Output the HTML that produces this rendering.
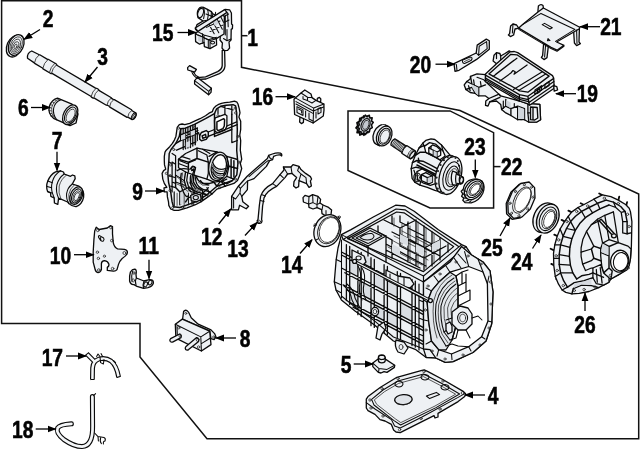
<!DOCTYPE html>
<html><head><meta charset="utf-8"><title>Transaxle parts diagram</title>
<style>
html,body{margin:0;padding:0;background:#fff;}
body{width:640px;height:471px;overflow:hidden;}
svg{display:block;}
.lbl{stroke:#000;stroke-width:0.6;font-family:"Liberation Sans",sans-serif;font-weight:bold;font-size:24px;fill:#000;}
.fr{fill:none;stroke:#111;stroke-width:1.5;}
.ar{fill:none;stroke:#000;stroke-width:1.3;}
.p{fill:#eef1f4;stroke:#0a0a0a;stroke-width:1.3;stroke-linejoin:round;stroke-linecap:round;}
.l{fill:none;stroke:#0a0a0a;stroke-width:1.05;stroke-linejoin:round;stroke-linecap:round;}
.t{fill:none;stroke:#222;stroke-width:0.75;stroke-linejoin:round;stroke-linecap:round;}
.w{fill:#fff;stroke:#1a1a1a;stroke-width:0.9;stroke-linejoin:round;}
.d{fill:#222;stroke:none;}
</style></head>
<body>
<svg width="640" height="471" viewBox="0 0 640 471">
<defs>
<marker id="ah" markerWidth="9" markerHeight="8" refX="8" refY="4" orient="auto" markerUnits="userSpaceOnUse"><path d="M0,0.6 L9,4 L0,7.4 Z" fill="#000"/></marker>
</defs>
<rect width="640" height="471" fill="#fff"/>
<!-- FRAME -->
<g id="frame">
<path class="fr" d="M241.5,0.7 H1.6 V323.5 H140 V357 L207,438.7 H638.7 V194 L460,110.5 L241.5,67.3 V0"/>
<path class="fr" d="M241.5,35.7 H247.5"/>
<path class="fr" d="M348,110.9 H450 L493.6,132.6 V208 H430 L348,170.5 Z"/>
<path class="fr" d="M493.6,166.6 H500.5"/>
</g>
<!-- PARTS -->
<g id="parts">
<!-- 2 seal -->
<g id="p2">
<ellipse class="p" cx="14.6" cy="46.2" rx="7.6" ry="11.3" transform="rotate(24 14.6 46.2)"/>
<ellipse class="p" cx="16.2" cy="45" rx="7.2" ry="10.8" transform="rotate(24 16.2 45)"/>
<ellipse class="t" cx="16.2" cy="45.2" rx="5.6" ry="8.8" transform="rotate(24 16.2 45.2)"/>
<ellipse class="t" cx="16" cy="45.6" rx="4.1" ry="6.8" transform="rotate(24 16 45.6)"/>
<ellipse class="t" cx="15.8" cy="46" rx="2.6" ry="4.6" transform="rotate(24 15.8 46)"/>
<ellipse class="t" cx="15.6" cy="46.4" rx="1.2" ry="2.4" transform="rotate(24 15.6 46.4)"/>
</g>
<!-- 3 shaft -->
<g id="p3" transform="translate(28.6,54) rotate(30.6)">
<path class="p" d="M1.2,-4.2 Q-2,0 1.2,4.2 L9,4.7 L10,5 L19,5 L20,5.5 L29,5.5 L30,4.7 L75,4.7 L76,5.1 L78,5.1 L79,4.5 L93,4.5 L94,4 L96,4 L97,4.4 L117,4.4 L118,3.8 L122.6,3.8 Q125.4,0 122.6,-3.8 L118,-3.8 L117,-4.4 L97,-4.4 L96,-4 L94,-4 L93,-4.5 L79,-4.5 L78,-5.1 L76,-5.1 L75,-4.7 L30,-4.7 L29,-5.5 L20,-5.5 L19,-5 L10,-5 L9,-4.7 Z"/>
<path class="t" d="M9.5,-4.6 Q7.6,0 9.5,4.6 M19.5,-5.2 Q17.6,0 19.5,5.2 M27.3,-5.5 Q25.4,0 27.3,5.5 M29.5,-5 Q27.6,0 29.5,5 M75.5,-4.9 Q73.6,0 75.5,4.9 M78.5,-4.8 Q76.6,0 78.5,4.8 M93.5,-4.2 Q91.6,0 93.5,4.2 M96.5,-4.2 Q94.6,0 96.5,4.2 M117.5,-4.1 Q115.6,0 117.5,4.1"/>
<ellipse class="l" cx="122.2" cy="0" rx="1.8" ry="3.6"/>
<ellipse class="t" cx="122.4" cy="0" rx="0.9" ry="2.1"/>
</g>
<!-- 6 sleeve -->
<g id="p6">
<path class="p" d="M57.5,98.2 L72,104.2 L78,114 L76,123 L70,125.6 L53.5,118.3 Q47.5,113.5 49.5,106 Q52,99.4 57.5,98.2 Z"/>
<ellipse class="p" cx="70.2" cy="114.8" rx="6.6" ry="10.6" transform="rotate(28 70.2 114.8)"/>
<ellipse class="l" cx="70.4" cy="115" rx="5" ry="8.6" transform="rotate(28 70.4 115)"/>
<ellipse class="t" cx="70.6" cy="115.4" rx="3.7" ry="6.8" transform="rotate(28 70.6 115.4)"/>
<path class="l" d="M61,99.7 Q55,101.5 53.6,108.5 Q52.6,114.5 56.8,119.8"/>
<path class="t" d="M59.3,99 Q53.4,100.8 51.7,107.6 Q50.6,113.8 55,119"/>
<path class="t" d="M50.2,104.5 L52.2,105.3 M49.3,107.5 L51.4,108.1 M49,110.5 L51.3,110.9 M49.6,113.5 L51.8,113.5 M51,116.2 L53,115.8 M52.4,101.8 L54.2,102.9 M55,99.6 L56.4,101"/>
</g>
<!-- 7 bearing -->
<g id="p7">
<path class="p" d="M55.6,171.8 L60.5,170.8 L63.5,172 L64.2,174 L70.5,176.3 L72.5,175 L74.8,175.8 L75.2,178.6 L72.3,184 L79,186.2 Q84.6,190 83.6,197.4 Q82,204.6 76.2,206.6 Q72.2,206.8 69,203.6 L67.6,202 L58.6,198.2 L57.8,204.4 L54.4,203 L54.2,198 L50.8,196.3 L50.6,193 L47.6,191.6 Q45.6,186.4 47.8,181 Q50.4,174.4 55.6,171.8 Z"/>
<path class="l" d="M60.5,170.8 Q54.6,174.4 52.4,181.4 Q50.6,188 52.6,193.6 L54.2,198"/>
<path class="l" d="M64.2,174 Q58.6,178 56.8,185 Q55.6,192 58.6,198.2"/>
<path class="t" d="M66.6,175 Q61,179 59.2,186 Q58,193 61,199.2"/>
<path class="l" d="M72.3,184 Q67.6,187.6 66.6,193.6 Q66,199 69,203.6"/>
<path class="t" d="M74.4,184.8 Q69.8,188.6 68.8,194.4 Q68.2,199.8 71,204.6"/>
<path class="l" d="M47.8,181 L52.4,182.8 M47.2,186.4 L51.6,187.8 M47.6,191.6 L52,193"/>
<ellipse class="p" cx="76.3" cy="195.6" rx="5.8" ry="9.2" transform="rotate(24 76.3 195.6)"/>
<ellipse class="l" cx="76.5" cy="195.9" rx="4.4" ry="7.4" transform="rotate(24 76.5 195.9)"/>
<ellipse class="t" cx="76.7" cy="196.3" rx="3.2" ry="5.8" transform="rotate(24 76.7 196.3)"/>
<ellipse class="t" cx="76.7" cy="196.6" rx="2.2" ry="4.4" transform="rotate(24 76.7 196.6)"/>
</g>
<!-- 15 solenoid -->
<g id="p15">
<path class="p" d="M222,13 L225,9.4 L229.6,9.8 L231.4,13 L231.6,24 L232.6,25 L232.4,28.6 L231.2,29.4 L231,40 L229,42 L229.6,48 L227.6,50.4 L224,50.6 L222,48 L222.4,43 L220,40 L220.4,36 L222.4,34 Z"/>
<path class="p" d="M198.6,9 Q200,6.6 203.4,7.4 L207.4,9.4 L211.4,11.6 L213,14 L218,16 L221.6,14.6 L224.4,16.4 L224,34 L216.4,38.6 L216.6,45 L210,48.6 L204.4,46.6 L204,42.4 L199.6,44.2 L195.6,41.6 L195.4,34 L197.6,31.6 L195.4,29 L197,24.6 L203,21 L198,17.6 Q196.4,12.6 198.6,9 Z"/>
<ellipse class="l" cx="200.6" cy="13" rx="2.6" ry="4.8" transform="rotate(18 200.6 13)"/>
<path class="l" d="M203.4,7.4 Q205.4,11 203.6,18.6 M207.4,9.4 Q209,13 207.6,19 M211.4,11.6 L211,19.6 M203,21 L211,19.6 L213,14"/>
<path class="l" d="M208.3,23.3 L214.2,33.8 M212.4,21.0 L218.8,32.7 M216.5,18.1 L222.3,29.2 M206.6,27.4 L220.0,21.0 M210.1,31.5 L222.9,25.1 M220.0,15.2 L223.5,22.2 M202.5,33.8 L202.5,43.2 M197.8,35.0 L208.3,39.7 L216.5,37.3 M208.3,39.7 L208.3,47.8 M206.0,14.0 L214.8,17.5 L215.6,12.3"/>
<path class="l" d="M225.3,15.2 L225.3,35.0 M227.6,12.8 L228.2,26.8 M223.5,38.5 L227.0,40.8 L231.1,39.1"/>
<path style="fill:#cfd4da;stroke:none" d="M212.7,21.6 L216.3,18.7 L218.6,23.3 L215.1,26.3 Z M198.1,35.5 L202.3,37.1 L202.3,42.7 L198.1,41.1 Z"/>
<path class="p" d="M195.2,28 L224.6,9.6 L227,12.4 L198,31.4 Z"/>
<path class="l" d="M197.6,31.6 L204,35 L216.4,38.6 M204,35 L204,42.4 M195.4,34 L204,37.4 M210,40.6 L210,48.6 M204.4,38 L210,40.6 L216.6,38.8"/>
<ellipse class="l" cx="212.6" cy="42.6" rx="2" ry="1.4"/>
<path class="l" d="M225,16 L228.6,14 M225,22 L229,20 M227,29.4 L227,40"/>
<path class="p" d="M224.6,50.4 L225,66 Q224.6,71 219.4,73.6 L206,79 L198,79.4 L197.6,77.6 L205.6,76.8 L217.6,71.6 Q222,69.4 222.2,65.6 L222.2,50.4 Z"/>
<path class="p" d="M194.6,80.6 L197.4,77.4 L211.4,88.2 L211,92.4 L208.6,94.8 L194.6,84 Z"/>
<path class="l" d="M194.6,80.6 L208.8,91.4 L211.4,88.2 M208.8,91.4 L208.6,94.8"/>
<path class="p" d="M187.6,67.6 L189.6,65.6 L196.4,69.4 L194.6,72.2 L187.8,70 Z"/>
<path class="l" d="M191.6,71.4 Q193,76 197.6,78.4 M193.4,72 Q195,75.6 199,77.2"/>
</g>
<!-- 9 cover -->
<g id="p9">
<path class="p" d="M234.5,101.2 L237.0,102.2 L238.0,104.0 L239.3,108.8 L240.0,112.9 L238.9,117.1 L240.7,121.2 L240.7,129.5 L239.8,135.0 L240.7,140.5 L240.3,150.2 L241.7,159.2 L240.3,163.5 L241.7,168.5 L239.6,175.6 L237.5,180.5 L233.9,183.4 L225.4,186.2 L216.9,189.1 L211.9,194.0 L206.9,197.6 L201.2,201.6 L195.5,204.7 L187.0,207.8 L178.5,210.4 L174.2,210.4 L170.7,209.0 L168.8,205.4 L168.5,201.9 L167.4,196.9 L167.1,191.9 L164.3,191.9 L164.0,187.9 L166.8,187.4 L164.3,183.4 L162.8,179.1 L162.1,173.4 L163.6,170.6 L165.7,169.2 L164.5,164.9 L164.3,160.6 L164.3,156.4 L165.0,152.1 L166.2,150.2 L169.7,146.7 L172.4,143.3 L174.5,139.8 L175.9,136.4 L176.6,131.6 L177.2,127.4 L179.3,124.7 L182.1,124.0 L184.8,124.7 L189.7,123.3 L194.5,121.2 L200.0,118.7 L205.5,115.7 L209.0,113.2 L212.4,111.6 L213.1,109.5 L213.8,108.1 L215.9,106.0 L218.0,104.7 L221.4,103.3 L224.9,102.6 L229.7,102.2 Z"/>
<path class="l" style="stroke-width:1.45" d="M233.1,104.7 L235.6,105.8 L236.6,112.9 L237.3,129.5 L236.7,150.2 L237.9,163.5 L236.8,174.9 L232.5,180.5 L216.9,186.2 L206.9,194.8 L195.5,201.9 L179.9,207.5 L173.5,206.8 L172.1,201.9 L170.7,191.9 L168.5,182.0 L167.8,173.4 L168.8,162.1 L169.2,153.5 L171.0,149.5 L175.9,143.3 L179.3,136.4 L180.7,128.8 L185.5,128.1 L194.5,124.3 L205.5,118.7 L214.5,113.6 L216.6,108.8 L220.7,106.3 L226.2,105.3 Z"/>
<path class="p" style="fill:#fff" d="M214.5,120.5 L215.2,117.8 L224.9,114.3 L226.9,115.7 L226.9,126.0 L224.9,130.2 L218.0,132.9 L214.9,131.2 Z"/>
<path class="l" style="stroke-width:1.45" d="M216.9,121.9 L223.8,118.7 L224.6,119.8 L224.3,126.0 L222.8,128.8 L218.2,130.6 L216.9,129.5 Z"/>
<path class="l" style="stroke-width:1.45" d="M199.7,135.7 L201.4,132.5 L206.2,130.6 L208.3,132.0 L208.3,136.4 L206.2,139.4 L201.4,140.8 L199.7,139.2 Z M202.1,135.8 L205.5,134.3 L206.1,137.1 L202.8,138.3 Z"/>
<path class="l" style="stroke-width:1.45" d="M180.7,128.8 L180.7,140.5 L175.9,143.3 M185.5,128.1 L185.5,148.8 M190.4,126.2 L190.4,147.4 M195.2,124.3 L195.2,144.7 M180.7,135.0 L197.3,128.1 M180.7,140.5 L198.6,132.9 M176.6,150.2 L195.9,141.9 M214.5,113.6 L214.5,136.4 M208.3,136.4 L237.3,124.7 M214.5,136.4 L231.8,129.5 L231.8,114.3"/>
<path class="l" style="stroke-width:1.25" d="M183.2,128.5 L183.2,149.5 M187.9,127.2 L187.9,148.1 M192.8,125.2 L192.8,146.1 M180.7,137.8 L197.9,130.6 M237.3,140.5 L231.8,142.6 L231.8,129.5 M226.9,126.0 L236.7,121.9"/>
<path style="fill:#d6dae0;stroke:none" d="M181.0,135.4 L185.3,133.6 L185.3,138.7 L181.0,140.3 Z M190.6,131.6 L194.9,129.8 L194.9,134.3 L190.6,136.1 Z M185.8,142.6 L190.1,140.8 L190.1,146.3 L185.8,148.1 Z"/>
<path class="p" d="M178.5,159.2 L185.6,153.5 L197.0,148.1 L216.9,151.8 L226.8,156.4 L228.9,166.3 L226.8,176.3 L221.1,181.2 L214.0,182.2 L206.9,179.1 L195.5,175.6 L185.6,172.0 L178.5,167.7 Z"/>
<path class="l" style="stroke-width:1.45" d="M178.5,159.2 L188.4,162.1 L197.0,158.5 L197.0,148.1 M188.4,162.1 L188.4,172.0 M197.0,158.5 L208.3,162.1"/>
<ellipse class="p" cx="218.3" cy="166.4" rx="9.4" ry="14.4" transform="rotate(12 218.3 166.4)"/>
<ellipse class="p" style="fill:#fff" cx="218.8" cy="166.8" rx="7.4" ry="12.2" transform="rotate(12 218.8 166.8)"/>
<path style="fill:#dfe3e8;stroke:none" d="M211.8,160 Q211,172 215,178 Q219,180 224,176 Q216,172 211.8,160 Z"/>
<path class="l" style="stroke-width:1.25" d="M212.6,172 Q216,179.6 222.6,177.6 M212,167 Q216,176 224.6,173 M212.4,162 Q216,172 226,168.4"/>
<path class="t" d="M212.2,169.6 Q216,178 223.6,175.4 M212.1,164.6 Q216,174 225.4,170.8"/>
<path class="l" style="stroke-width:1.45" d="M175.6,169.2 L175.6,187.6 L179.9,191.9 L179.9,204.7 M185.6,172.0 L184.2,180.5 L186.3,187.6 L191.3,191.9 M189.9,169.2 L192.7,166.3 L195.5,167.7 L194.1,173.4 L193.4,182.0 L197.0,187.6 L202.6,190.5 M179.9,191.9 L188.4,187.6 L197.0,191.9 L206.9,194.8 M195.5,175.6 L198.4,180.5 L202.6,183.4 L209.8,183.4 L214.0,182.2"/>
<path class="l" style="stroke-width:1.25" d="M187.7,173.4 L186.7,180.5 L188.4,186.2 L192.4,189.9 M191.6,170.6 L193.5,168.9 L194.1,169.9 L192.4,174.9 L191.6,182.2 L195.3,188.5 M175.6,174.9 L184.2,180.5 M175.6,182.0 L185.3,185.5 M188.4,193.3 L188.4,204.7 M197.0,191.9 L197.0,201.9"/>
<path class="t" d="M177.1,177.0 L183.5,182.2 M177.1,184.1 L184.9,187.4 M181.3,193.3 L181.3,204.0 M198.4,182.2 L202.6,185.1 L209.0,185.1"/>
<path style="fill:#d6dae0;stroke:none" d="M175.9,169.9 L183.9,174.1 L183.9,179.8 L175.9,174.6 Z M180.2,192.6 L188.1,188.4 L188.1,204.0 L180.2,204.4 Z"/>
<path class="l" style="stroke-width:1.25" d="M179.9,160.6 L187.0,163.5 L195.5,159.9 M181.3,156.4 L189.9,159.2 M198.4,150.7 L206.9,155.0 L208.3,162.1 M202.6,149.3 L209.8,153.5 M178.5,163.5 L187.7,167.0 M206.9,179.1 L208.3,173.4 L208.3,162.1 M216.9,151.8 L209.0,156.4 M226.8,176.3 L233.9,179.1"/>
<path class="l" style="stroke-width:1.45" d="M226.8,156.4 L236.8,159.2 M228.9,166.3 L237.5,168.5 M231.1,159.2 L231.1,177.7 M233.9,160.6 L233.9,177.0 M214.0,182.2 L216.9,186.2 M221.1,181.2 L225.4,186.2"/>
<path class="l" style="stroke-width:1.25" d="M172.1,153.5 L175.6,155.7 L175.6,169.2 M172.1,162.1 L175.6,164.2 M168.8,162.1 L172.1,163.5 L172.1,191.9 M172.1,182.0 L175.6,183.4 M202.6,190.5 L202.6,199.7 M206.9,194.8 L202.6,193.3"/>
<path class="t" d="M190.6,182.0 L194.1,187.6 L201.2,190.8 M189.1,182.2 L193.0,188.5 L200.5,191.9 M182.7,172.7 L181.3,180.5 L183.5,187.6 L188.4,191.9 M177.1,193.3 L177.1,205.4 M184.2,194.0 L184.2,204.7"/>
<path class="l" style="stroke-width:1.25" d="M218.0,108.8 L218.0,113.6 M224.9,106.0 L224.9,114.3 M231.8,105.8 L231.8,114.3 M220.7,106.3 L233.1,109.9"/>
<path class="l" style="stroke-width:1.25" d="M197.3,128.1 L197.3,140.5 M198.6,132.9 L199.7,135.7 M208.3,132.0 L214.5,129.5"/>
<path class="l" style="stroke-width:1.45" d="M185.6,201.9 L188.4,197.6 L194.1,196.2 L199.8,199.0 L201.2,201.6 M202.6,193.3 L205.5,190.5 L209.8,191.9 L211.9,194.0"/>
<path class="l" style="stroke-width:1.3" d="M181.3,173.4 Q179.2,182.0 182.7,190.5 T188.4,195.5 M190.6,175.6 Q189.1,183.4 193.4,190.5 T201.2,194.0 M195.5,177.7 Q195.5,184.8 201.2,188.4 T208.3,187.6 M177.1,170.6 Q181.3,167.7 188.4,169.2 M200.5,180.5 Q202.6,184.1 208.3,184.8 M192.7,191.9 Q195.5,196.2 202.6,196.2"/>
<path class="l" style="stroke-width:1.2" d="M174.2,191.9 L174.2,206.1 M175.6,187.6 L170.7,186.2 M175.6,177.7 L168.8,175.6 M192.0,193.3 L192.0,204.0 M206.9,187.6 L209.0,192.6 M216.9,186.2 L219.7,182.2 L226.8,179.1 M222.5,181.2 L226.8,184.1 L232.5,180.5"/>
<ellipse class="l" cx="193.4" cy="168.5" rx="1.8" ry="2.2"/>
<path class="p" style="fill:#dfe3e8" d="M190.6,195.5 L195.5,193.3 L200.5,195.0 L201.2,199.7 L196.2,201.9 L191.3,200.7 Z"/>
<ellipse class="l" cx="195.8" cy="197.6" rx="2.6" ry="2.2"/>
<circle class="t" cx="172.8" cy="207.5" r="1.1"/><circle class="t" cx="182.7" cy="207.5" r="1.1"/><circle class="t" cx="192.7" cy="204.0" r="1.1"/><circle class="t" cx="208.3" cy="195.5" r="1.1"/><circle class="t" cx="219.7" cy="187.6" r="1.1"/><circle class="t" cx="235.3" cy="179.1" r="1.1"/><circle class="t" cx="238.9" cy="162.1" r="1.1"/><circle class="t" cx="166.4" cy="173.4" r="1.1"/><circle class="t" cx="170.7" cy="164.9" r="1.1"/><circle class="t" cx="170.2" cy="175.6" r="1.1"/><circle class="t" cx="170.0" cy="190.5" r="1.1"/><circle class="t" cx="173.8" cy="149.5" r="1.1"/><circle class="t" cx="178.6" cy="128.1" r="1.1"/><circle class="t" cx="194.5" cy="127.4" r="1.1"/><circle class="t" cx="218.0" cy="115.7" r="1.1"/><circle class="t" cx="235.2" cy="108.1" r="1.1"/><circle class="t" cx="238.0" cy="136.4" r="1.1"/><circle class="t" cx="235.6" cy="112.9" r="1.1"/>
</g>
<!-- 16 solenoid block -->
<g id="p16">
<path class="p" d="M317,101 L317.4,98.4 L319.4,97.4 L320.8,99 L320.6,102.6 Z"/>
<path class="p" d="M300,117 L299.6,122 L301.4,123.6 L303.4,122.4 L303.6,118 Z"/>
<path class="p" d="M295.3,97.9 L301,93 L304.8,90 L311,94 L312,97.6 L316,100.4 L323.9,104 L324,110 L323.3,116 L313.1,123 L294.6,114.5 L294,99.2 Z"/>
<path class="l" d="M295.3,97.9 L313.7,108.1 L323.9,104 M313.7,108.1 L313.1,123 M301,93 L307.6,97.2 L312,97.6 M307.6,97.2 L307.4,100.6 L312,103 L316,100.4 M303,96.4 L303,99 L307.4,100.6 M296,101.6 L313.4,111 M296,104 L313.4,113.6 M313.4,111 L323.6,107"/>
<path class="l" d="M297,106.6 L297,112.6 L303,115.4 L303,109.6 Z M298.6,109 L301.6,110.6 L301.6,113 M305.6,111 L305.6,117 M309,113 L309,119 L313,121"/>
<path class="l" d="M318,108.6 L318,114 L321,112.4 L321,107.4 Z M316,118 L316,112"/>
</g>
<!-- 12 bracket -->
<g id="p12">
<path class="p" d="M268.6,155.4 L272.4,154 Q277,152.4 280.4,153.2 Q282.4,154.2 281.6,156 L280.6,155 Q277.6,154.4 273.6,156.4 L272.6,159.6 L269.6,160.6 L266.4,166.4 L254,178.6 L247.6,181 L247.4,189.6 L241.8,196.4 L242.8,201.8 L248.6,206.2 L246.2,208.8 L239.6,205.2 L238.4,209.8 L231.6,209.8 L231.6,196.4 L238.4,186.2 L247.2,176.2 L264,161.4 L267.4,158.4 Z"/>
<path class="l" d="M233.6,197.4 L233.6,208 M231.6,196.4 L235.6,199 L240,193 M238.4,186.2 L240.4,188.4 L247.4,181 M240.4,188.4 L240,193 L241.8,196.4 M249,176.6 L265.4,162.6 L268.4,160.4 M268.6,155.4 L270,158 L272.6,159.6"/>
</g>
<!-- 13 strap -->
<g id="p13">
<path class="p" d="M257.4,222.6 Q256.6,220.6 258,219.6 L259.4,205 L260.6,196.4 Q263,188.6 272.6,183.6 L280,174.6 L284,170 L283.4,167 L291,167 L293,164.6 L299,166.4 L301,169.6 L305.6,173.4 L310.4,176.6 L311.6,179 L310.4,181 L311.4,186 L309,187.4 L306.6,183.6 L299,180.6 L298.6,186.6 L296,188 L293.6,186 L294,181.6 L296.6,177.6 L292,173.4 L287.6,174 L285,177.6 L276.6,186.4 Q266.4,191 264,198 L262.6,206 L261.6,219.4 Q262.6,221 261.4,222.8 Q259.4,224 257.4,222.6 Z"/>
<path class="l" d="M260.4,200.6 L264,201.6 M261.4,194.6 L265.4,196 M272.6,183.6 L276.6,186.4 M280,174.6 L283.4,177.8 M291,167 L292,173.4 M299,166.4 L297.6,170.6 L301,174 L299,180.6 M301,174 L306,177.6 L306.6,183.6 M283.4,167 L287.6,174"/>
<circle class="t" cx="259.4" cy="221.4" r="1.1"/>
</g>
<!-- 14 sensor + ring -->
<g id="p14">
<path class="p" d="M303,197.6 L305,195.4 L309,196.6 L312.6,194.6 L318,196.4 L320.6,199.4 L320,203 L323,205 L328.6,207.4 L331.6,210 L331,214.6 L326,216 L322,213.6 L321.6,209.6 L317,207.6 L313,209 L309,207.4 L308.6,204 L303.4,202 Z"/>
<path class="l" d="M309,196.6 L308.6,204 M312.6,194.6 L313,202.6 L309,204 M313,202.6 L317,204.6 L317,207.6 M318,196.4 L317,204.6 M320,203 L317,204.6 M323,205 L322,209.6 M326,210.6 L326,216"/>
<ellipse class="p" cx="327.4" cy="230.6" rx="13" ry="16.4" transform="rotate(22 327.4 230.6)"/>
<ellipse class="w" cx="328.6" cy="230.2" rx="10.4" ry="14" transform="rotate(22 328.6 230.2)"/>
<ellipse class="t" cx="329.2" cy="230" rx="9.4" ry="13" transform="rotate(22 329.2 230)"/>
<path class="l" d="M313.6,226 L316.4,225 M316,240 L318.6,238.6 M338,216.4 L339.6,218.6"/>
<circle class="t" cx="315.2" cy="224.6" r="1"/><circle class="t" cx="339.4" cy="217" r="1"/>
</g>
<!-- 10 plate -->
<g id="p10">
<path class="p" d="M96.2,227.2 L99.1,229.5 L107.3,228 L110.3,225.7 L112.5,226.5 L112.5,233.9 L113.3,242.8 Q114.4,247.6 117.6,248.8 L124.4,249.3 Q127.6,250 127.4,252.6 Q127,255.4 122.2,258.5 Q119.6,261 118.5,264.4 L117,269.6 Q115.6,271.4 113.3,271.1 L107.3,270.4 L107.3,267.4 Q109.4,266 108.8,264 Q108,261.4 104.6,260.7 Q101.6,261 101.4,263.6 L101.4,269.6 Q100.4,272.6 98,272.6 Q95.6,272 95,269 L93.2,262.2 L93.2,251.8 L93.9,239.9 L94.7,231 Z"/>
<circle class="t" cx="97.8" cy="230.4" r="1.3"/><circle class="t" cx="110.9" cy="227.6" r="1.3"/><circle class="t" cx="111.8" cy="240.6" r="1.3"/><circle class="t" cx="124.4" cy="253" r="1.5"/><circle class="t" cx="112.6" cy="268.6" r="1.3"/><circle class="t" cx="98.8" cy="270" r="1.3"/><circle class="t" cx="97.4" cy="252.2" r="1.2"/><circle class="t" cx="104.4" cy="256.2" r="1.1"/><circle class="t" cx="98.4" cy="258.4" r="1.2"/>
<path class="l" d="M98.6,237.4 Q98,235.6 99.6,235.6 L103.6,238 Q104.6,239.6 103.4,241 Q102,241.6 100.8,240.6 Z M101,236.6 Q100,238.4 101,240.4"/>
</g>
<!-- 11 clamp -->
<g id="p11">
<path class="p" d="M130.4,272 Q132.6,268.6 135.6,269.4 Q136.8,270.6 136,274.6 L136.4,278 L144,281 L149.4,279.6 Q153.6,279.4 153.4,283 Q152.4,286.6 148,287.6 L143.6,288.4 L137,286.4 L134,284.6 Q130.6,285 129.6,281 Q129.2,276 130.4,272 Z"/>
<path class="l" d="M132.6,271.4 Q131,276 132,281.4 M136.4,278 Q134.6,281 136,284.6 M144,281 Q142.4,284.6 143.6,288.4"/>
<ellipse class="t" cx="133.2" cy="280.4" rx="1.3" ry="1.6"/><ellipse class="t" cx="134" cy="273" rx="1" ry="1.4"/>
<ellipse class="l" cx="145.6" cy="284.4" rx="1.7" ry="2.6" transform="rotate(25 145.6 284.4)"/><ellipse class="l" cx="150.2" cy="282.6" rx="1.7" ry="2.4" transform="rotate(25 150.2 282.6)"/>
</g>
<!-- 8 cooler -->
<g id="p8">
<path class="p" d="M182.6,319 L183.6,311.5 Q185,309.6 187,310.6 L188.7,312.4 L191.2,317.8 L198.2,324.2 L211,329.9 L214.6,333.6 L216,336.9 L214.1,339.6 L211,338.6 L209.7,331.2 Z"/>
<circle class="t" cx="185.8" cy="313.4" r="1"/><circle class="t" cx="213.6" cy="337" r="1"/>
<path class="p" d="M175.3,324.2 L182.3,319.1 L209.7,331.2 L211,344.6 L201.4,351 L175.9,338.2 Z"/>
<path class="l" d="M175.3,324.2 L200.8,336.9 L209.7,331.2 M200.8,336.9 L201.4,351 M201.4,343.6 L210.4,338 M177,326.6 L177.4,337.6"/>
<circle class="t" cx="178.8" cy="327.8" r="1.2"/><circle class="t" cx="198.6" cy="347" r="1.2"/>
<path class="p" d="M179.6,334 L170.6,338.6 Q169.2,340 170.2,341.4 Q171.4,342.6 173,341.8 L181,337.6 Q181.8,335 179.6,334 Z"/>
<path class="p" d="M196.6,337.6 L186,346.4 Q184.6,348 185.6,349.4 Q187,350.6 188.6,349.6 L198.6,341.4 Q199.4,338.6 196.6,337.6 Z"/>
<ellipse class="t" cx="197.6" cy="339.6" rx="1.4" ry="1.9"/><ellipse class="t" cx="180.2" cy="335.8" rx="1.2" ry="1.8"/>
</g>
<!-- 17 tube -->
<g id="p17">
<path d="M87,354 L94.6,361.6 M92.4,379.4 L92.6,368 Q93,361 99,359 Q106,357.4 111,361 Q116.6,365.6 118.6,377" fill="none" stroke="#0a0a0a" stroke-width="4.8" stroke-linecap="butt" stroke-linejoin="round"/>
<path d="M87,354 L94.6,361.6 M92.4,379.2 L92.6,368 Q93,361 99,359 Q106,357.4 111,361 Q116.6,365.6 118.6,376.8" fill="none" stroke="#f4f6f8" stroke-width="2.5" stroke-linecap="butt" stroke-linejoin="round"/>
<path class="l" d="M96.6,356.4 L98,354 L99.6,356 M100,357 L100.6,362.6 L103.4,364 L104,359.6 M101,353.6 L102.6,356.6 M113.6,360.6 L115.6,362.6"/>
<path class="l" d="M85.6,355.2 L88.4,352.8 M90.8,379.6 L94,379.4 M117,377.4 L120.2,376.6"/>
</g>
<!-- 18 hose -->
<g id="p18">
<path d="M92.4,396.6 L92.6,426 Q93,446 82,446.6 Q74,446.6 64,439.6 Q55.6,433 57.6,428 Q59.6,424.6 71.4,423.8" fill="none" stroke="#0a0a0a" stroke-width="5" stroke-linecap="round" stroke-linejoin="round"/>
<path d="M92.4,396.6 L92.6,426 Q93,446 82,446.6 Q74,446.6 64,439.6 Q55.6,433 57.6,428 Q59.6,424.6 71.4,423.8" fill="none" stroke="#f4f6f8" stroke-width="2.7" stroke-linecap="round" stroke-linejoin="round"/>
<path class="l" d="M93.6,395.6 L95.6,393.6 M94.6,433 L98,436.6 L104,437.6 M98,436.6 L98.4,441 M100.6,438 Q99.6,442 101.4,443.6 M104,437.6 Q106,438.4 105,441 Q103,441 103.4,444"/>
</g>
<!-- 21 bracket -->
<g id="p21">
<path class="p" d="M538,10 L538.4,6 Q540.6,3.6 543,5.4 L543.4,8 L541.6,10 L541.6,15 L539.6,16.4 L538.2,14.6 Z"/>
<path class="p" d="M573.6,30.6 L574.4,43 L576.6,45.6 L580.4,43.6 L579,42 L579.4,28.6 Z"/>
<path class="p" d="M543.6,44 L542.6,55.6 L541.4,57.4 L544,59.6 L547,57.6 L548.4,45.6 Z"/>
<path class="p" d="M518.75,28.1 L516.6,25 L513,24 L510.6,26 L509.6,33.6 L508.4,35 L510.4,36.6 L513.6,35 L515,29 Z"/>
<path class="p" d="M518.75,28.1 L522.6,24.6 L538.3,11.7 L543.4,8 L579.7,27.3 L579.4,28.8 L556.6,42 L564,45.3 L557,50.2 L551,47.4 Z"/>
<path class="l" d="M518.75,29.4 L551,48.6 L557,51.2 L564,46.3 M522.6,24.6 L541,13.4 L575,29.4 L555.5,41.4 M542.2,24.6 L544.6,23.4 L552.3,27.8 L550,29 Z M548,38.6 L550,40.6 L547.4,40.8 Z M513,24 L512.4,33 M545.6,45 L544.6,57 M576.6,30 L577,43.6"/>
</g>
<!-- 20 plate -->
<g id="p20">
<path class="p" d="M454,63.6 L476.2,53 L477.2,45.1 L486.3,39.1 L489.3,40.8 L489.3,49.2 L476.6,59.4 L459,70.3 L455,71.4 Z"/>
<path class="l" d="M456.4,64.6 L457,70.6 M479.2,46.2 L486.6,41.6 L487.2,48.6 L478.6,55.4 Z M476.2,53 L478.6,55.4"/>
<path class="l" d="M462.6,62 Q462,60 464,59.4 L470,57 Q472.4,57 472,59 Q471.6,60.6 470,61 L464.6,63.4 Q463,63.6 462.6,62 Z"/>
<path class="t" d="M464.4,61.6 L470,59"/>
</g>
<!-- 19 inverter -->
<g id="p19">
<path class="p" d="M493.1,61.1 L494.0,55.2 L496.5,52.6 L499.9,53.5 L500.7,56.0 L505.0,53.5 L509.2,50.9 L510.9,51.8 L510.9,57.7 L496.5,63.7 Z"/>
<path class="l" style="stroke-width:1.2" d="M496.5,52.6 L496.5,58.6 M500.7,56.0 L500.7,60.3"/>
<path class="p" d="M464.2,84.9 L466.8,81.5 L470.2,79.0 L470.5,76.4 L477.0,73.9 L485.5,74.7 L485.5,81.5 L500.7,95.9 L519.4,101.0 L527.9,103.6 L539.8,104.4 L540.6,119.7 L536.4,122.2 L528.8,122.2 L524.5,119.7 L517.7,119.7 L510.9,115.5 L505.8,112.9 L501.6,109.5 L500.7,104.4 L496.5,101.0 L489.7,101.9 L488.0,106.1 L485.5,105.3 L485.8,101.0 L488.9,98.5 L485.5,95.9 L478.7,95.9 L475.3,93.4 L470.2,92.5 L465.9,89.5 Z"/>
<path class="l" style="stroke-width:1.35" d="M470.5,76.4 L471.9,84.0 L478.7,87.4 L485.5,84.9 M466.8,81.5 L471.9,84.0 M478.7,87.4 L478.7,95.9 M465.9,89.5 L471.9,87.4 L475.3,93.4 M488.9,98.5 L499.0,94.2 L500.7,95.9 M489.7,101.9 L499.9,97.3 M501.6,109.5 L505.8,106.1 L505.8,99.3 M505.8,106.1 L510.9,108.7 L510.9,115.5 M510.9,108.7 L517.7,106.1 L517.7,119.7 M517.7,106.1 L524.5,108.7 L524.5,119.7"/>
<path class="l" style="stroke-width:1.2" d="M473.6,79.8 L474.4,85.7 M477.0,77.3 L483.8,79.8 L485.5,81.5 M480.4,81.5 L481.2,86.6 M468.5,85.7 L470.2,90.8 M503.3,101.0 L503.3,108.2 M508.4,102.7 L508.4,107.5 M514.3,103.6 L514.3,107.5 M521.1,107.5 L521.1,119.7"/>
<path class="p" d="M527.9,103.6 L539.8,104.4 L540.6,119.7 L536.4,122.2 L528.8,122.2 L527.9,112.9 Z"/>
<path class="l" style="stroke-width:1.35" d="M530.5,107.0 L537.2,107.5 L537.8,118.0 L534.7,120.0 L530.5,119.7 Z M527.9,112.9 L530.5,112.9 M533.0,107.1 L533.0,119.9"/>
<path style="fill:#d0d5db;stroke:none" d="M506.2,100.2 L510.6,102.4 L510.6,108.2 L506.2,105.8 Z M518.1,106.5 L524.2,109.0 L524.2,119.0 L518.1,119.0 Z M472.2,84.4 L478.3,87.8 L478.3,95.3 L475.6,93.0 L472.2,87.8 Z"/>
<path class="p" d="M485.5,73.9 L496.5,63.7 L510.1,51.8 L514.3,51.5 L517.7,52.6 L552.5,75.6 L553.7,78.1 L554.2,88.3 L529.6,105.3 L527.1,103.6 L519.4,101.0 L485.5,81.5 Z"/>
<path class="l" style="stroke-width:1.35" d="M485.5,75.2 L519.4,94.6 L527.9,96.3 L553.4,78.6 M527.9,96.3 L529.3,104.8 M485.5,78.1 L519.4,97.6 L528.3,99.7 M519.4,94.6 L519.4,101.0"/>
<path class="l" style="stroke-width:1.2" d="M528.6,99.0 L553.9,81.5 M528.9,102.4 L554.1,84.9 M485.5,79.8 L519.4,99.3 L528.6,101.7"/>
<path class="l" style="stroke-width:1.35" d="M488.9,73.9 L510.9,54.3 L516.9,54.8 L549.1,76.1 L527.9,92.2 L519.8,90.8 Z"/>
<path class="l" style="stroke-width:1.2" d="M493.1,76.4 L516.9,58.2 M499.9,81.0 L510.9,73.0 L513.0,70.5 L515.2,71.8 L514.0,74.2 L527.1,65.0 M513.5,89.5 L542.3,71.8 M518.6,90.5 L545.7,73.9 M495.7,74.2 L514.0,60.3"/>
<path class="l" style="stroke-width:1.2" d="M534.7,94.2 L535.0,90.0 L541.5,85.7 L541.5,90.0 Z M544.9,88.3 L544.9,84.4 L549.1,81.5 L549.1,85.4 Z M537.2,93.4 L537.4,90.5 L539.8,88.8 L539.8,91.7 Z"/>
<path class="p" d="M553.7,85.7 L556.8,86.6 L557.6,90.0 L554.2,91.2 Z"/>
</g>
<!-- 22 group -->
<g id="p22">
<path class="p" style="fill:#9aa0a8;stroke-width:1.6" d="M370.7,128.4 L368.3,129.7 L367.8,132.8 L365.5,132.6 L363.9,135.3 L362.2,133.6 L359.9,135.2 L359.4,132.5 L357.0,132.6 L357.7,129.5 L355.9,128.0 L357.7,125.5 L356.9,122.8 L359.3,121.5 L359.8,118.4 L362.1,118.6 L363.7,115.9 L365.4,117.6 L367.7,116.0 L368.2,118.7 L370.6,118.6 L369.9,121.7 L371.7,123.2 L369.9,125.7 Z"/>
<path class="p" style="fill:#c4c9cf;stroke-width:1.5" d="M372.3,127.6 L369.9,128.9 L369.4,132.0 L367.1,131.8 L365.5,134.5 L363.8,132.8 L361.5,134.4 L361.0,131.7 L358.6,131.8 L359.3,128.7 L357.5,127.2 L359.3,124.7 L358.5,122.0 L360.9,120.7 L361.4,117.6 L363.7,117.8 L365.3,115.1 L367.0,116.8 L369.3,115.2 L369.8,117.9 L372.2,117.8 L371.5,120.9 L373.3,122.4 L371.5,124.9 Z"/>
<ellipse class="l" cx="365.6" cy="124.8" rx="4.2" ry="6.6" transform="rotate(22 365.6 124.8)"/>
<ellipse class="t" cx="365.9" cy="124.8" rx="2.8" ry="4.8" transform="rotate(22 365.9 124.8)"/>
<ellipse class="p" cx="381" cy="134.8" rx="7.4" ry="10.6" transform="rotate(24 381 134.8)"/>
<path class="p" d="M385.6,125.6 L382.4,124.6 L378.4,143.8 L382,145.6 Z" style="stroke:none"/>
<ellipse class="p" cx="384.2" cy="136" rx="7.2" ry="10.4" transform="rotate(24 384.2 136)"/>
<path class="l" d="M385.4,125 L388.4,126.2 M376.6,144.4 L379.6,146"/>
<ellipse class="l" cx="384.4" cy="136.2" rx="5.4" ry="8.4" transform="rotate(24 384.4 136.2)"/>
<ellipse class="t" cx="384.8" cy="136.6" rx="4.2" ry="7" transform="rotate(24 384.8 136.6)"/>
<g transform="translate(392,141.4) rotate(33)">
<path class="p" d="M1,-3.6 Q-1,0 1,3.6 L14,3.8 L15,4.6 L25,4.6 Q27.4,0 25,-4.6 L15,-4.6 L14,-3.8 Z"/>
<path class="t" d="M2.0,-3.6 L2.0,3.6 M3.4,-3.6 L3.4,3.6 M4.8,-3.6 L4.8,3.6 M6.2,-3.6 L6.2,3.6 M7.6,-3.6 L7.6,3.6 M9.0,-3.6 L9.0,3.6 M10.4,-3.6 L10.4,3.6 M11.8,-3.6 L11.8,3.6 M13.2,-3.6 L13.2,3.6"/>
<path class="l" d="M14.5,-4.2 Q13,0 14.5,4.2"/>
<path class="t" d="M21,-4.6 Q19.4,0 21,4.6 M22.6,-4.6 Q21,0 22.6,4.6"/>
<ellipse class="l" cx="24.6" cy="0" rx="1.8" ry="4.4"/>
</g>
</g>
<!-- differential -->
<g id="pdiff">
<path class="p" d="M411.7,174.6 L411.2,168.7 L412.4,162.7 L415.4,155.3 L419.1,147.9 L422.9,143.1 L425.8,140.4 L431.0,138.9 L434.8,139.5 L437.0,141.2 L441.5,144.9 L445.2,149.3 L449.6,154.6 L452.6,158.3 L442.2,192.5 L434.8,190.3 L427.3,187.3 L419.9,185.1 L414.7,182.1 L412.1,178.4 Z"/>
<path class="l" style="stroke-width:1.4" d="M415.4,155.3 L419.9,152.3 L425.8,152.3 L434.8,156.8 L440.7,160.5 M419.1,147.9 L423.6,145.6 L428.8,146.1 L437.0,150.1 L444.0,155.3 M412.4,162.7 L416.9,160.5 L422.9,161.2 L431.8,165.7 L438.5,169.4 M411.2,168.7 L416.2,167.2 L421.4,168.4 L430.3,173.2 L437.0,176.4"/>
<path class="p" style="fill:#fff" d="M424.3,146.4 L429.6,142.6 L435.5,144.1 L442.9,150.8 L445.2,156.0 L440.0,159.8 L434.8,156.8 L425.8,152.3 Z"/>
<path class="p" d="M428.8,147.9 L432.5,144.9 L437.0,146.7 L440.7,150.1 L440.7,155.3 L437.0,157.5 L433.3,155.6 L428.8,153.1 Z"/>
<path class="l" style="stroke-width:1.2" d="M428.8,147.9 L433.3,150.2 L437.0,152.0 L440.7,150.1 M433.3,150.2 L433.3,155.6 M437.0,152.0 L437.0,157.5 M431.0,146.4 L431.0,149.0"/>
<path style="fill:#cfd4da;stroke:none" d="M433.6,150.5 L436.7,152.2 L436.7,157.1 L433.6,155.4 Z"/>
<path class="p" style="fill:#fff" d="M416.9,171.7 L422.1,169.0 L430.3,173.2 L436.2,176.9 L435.5,183.6 L430.3,185.4 L422.9,182.8 L417.6,179.9 Z"/>
<path class="p" d="M421.4,174.6 L425.8,172.6 L432.5,176.1 L432.5,182.1 L428.8,183.9 L421.4,180.6 Z"/>
<path class="l" style="stroke-width:1.2" d="M421.4,174.6 L427.3,177.6 L432.5,176.1 M427.3,177.6 L427.3,183.3"/>
<path style="fill:#cfd4da;stroke:none" d="M427.6,177.9 L432.2,176.6 L432.2,181.9 L427.6,183.1 Z"/>
<ellipse class="l" cx="417.2" cy="177.3" rx="3.4" ry="4.4"/>
<ellipse class="t" cx="417.5" cy="177.6" rx="2" ry="2.8"/>
<path class="l" style="stroke-width:1.2" d="M414.7,182.1 L415.4,174.6 L413.9,170.2 M419.9,185.1 L420.6,181.3 M422.9,143.1 L424.3,146.4 M441.5,144.9 L442.9,150.8"/>
<path class="l" style="stroke-width:1.4" d="M417.6,162.0 L439.2,173.2 M416.9,165.0 L438.0,175.5 M418.4,158.3 L419.1,162.0"/>
<ellipse class="p" cx="446.6" cy="174.4" rx="10.6" ry="19.6" transform="rotate(16 446.6 174.4)"/>
<ellipse class="p" cx="450.4" cy="175.6" rx="10.6" ry="19.4" transform="rotate(16 450.4 175.6)"/>
<circle class="d" cx="443.5" cy="192.9" r="1.1"/><circle class="d" cx="440.2" cy="191.9" r="1.1"/><circle class="d" cx="437.8" cy="188.7" r="1.1"/><circle class="d" cx="436.5" cy="183.7" r="1.1"/><circle class="d" cx="436.6" cy="177.6" r="1.1"/><circle class="d" cx="438.0" cy="171.1" r="1.1"/><circle class="d" cx="440.6" cy="165.0" r="1.1"/><circle class="d" cx="443.9" cy="160.2" r="1.1"/><circle class="d" cx="447.7" cy="157.2" r="1.1"/><circle class="d" cx="451.4" cy="156.4" r="1.1"/>
<circle class="d" cx="455.5" cy="158.1" r="1.0"/><circle class="d" cx="457.8" cy="161.1" r="1.0"/><circle class="d" cx="459.0" cy="165.7" r="1.0"/><circle class="d" cx="459.0" cy="171.4" r="1.0"/>
<ellipse class="l" cx="451.4" cy="176" rx="8" ry="14.6" transform="rotate(16 451.4 176)"/>
<ellipse class="l" cx="452.2" cy="176.4" rx="6" ry="10.6" transform="rotate(16 452.2 176.4)"/>
<ellipse class="t" cx="452.8" cy="176.8" rx="4.6" ry="8.4" transform="rotate(16 452.8 176.8)"/>
<path class="p" d="M452.6,171 L456.6,172.6 L457,174.4 L460,175.6 Q463.4,176.6 463.6,180 Q463.4,183.6 460.6,184 L457.4,183.4 L456.6,185.4 L452.6,184.6 Q450,178 452.6,171 Z"/>
<path class="l" style="stroke-width:1.2" d="M456.6,172.6 Q454.6,179 456.6,185.4 M460,175.6 Q458.4,180 460.2,184"/>
<ellipse class="l" cx="461.6" cy="180" rx="1.8" ry="3.4" transform="rotate(16 461.6 180)"/>
</g>
<!-- 23 seal -->
<g id="p23" transform="translate(-0.8,1.3)">
<path class="p" d="M470,179 Q478,175.6 483,180 Q486.4,185 483.6,192 Q480,199.6 472,201.6 L466,201.4 L463.6,199 L464.6,197 L462.4,195 L463.6,192.6 L462,190 L464,188 Q465,182 470,179 Z"/>
<ellipse class="p" cx="474.6" cy="188.2" rx="8" ry="11.4" transform="rotate(40 474.6 188.2)"/>
<ellipse class="l" cx="475.2" cy="188" rx="6.2" ry="9.4" transform="rotate(40 475.2 188)"/>
<ellipse class="w" cx="475.6" cy="188" rx="4.4" ry="7.4" transform="rotate(40 475.6 188)"/>
<ellipse class="t" cx="476" cy="188" rx="3.4" ry="6.2" transform="rotate(40 476 188)"/>
<path class="l" d="M464.6,189 L467.6,190.6 M464,192.6 L467,194 M464.6,196.6 L467.8,197 M466.6,199.8 L469.6,199 M470,201 L472,199.4"/>
</g>
<!-- 25 retainer -->
<g id="p25">
<path class="p" d="M530.3,209.1 L522.1,216.9 L513.7,218.4 L508.2,212.8 L507.8,202.5 L512.5,191.3 L520.7,183.5 L529.1,182.0 L534.6,187.6 L535.0,197.9 Z" transform="translate(-1.6,0.9)"/>
<path class="p" d="M530.3,209.1 L522.1,216.9 L513.7,218.4 L508.2,212.8 L507.8,202.5 L512.5,191.3 L520.7,183.5 L529.1,182.0 L534.6,187.6 L535.0,197.9 Z"/>
<ellipse class="w" cx="522" cy="200" rx="7.6" ry="14.2" transform="rotate(27 522 200)"/>
<ellipse class="t" cx="522.8" cy="199.8" rx="6.4" ry="13" transform="rotate(27 522.8 199.8)"/>
<ellipse class="t" cx="527.8" cy="209.0" rx="0.9" ry="1.3" transform="rotate(27 527.8 209.0)"/><ellipse class="t" cx="518.9" cy="215.7" rx="0.9" ry="1.3" transform="rotate(27 518.9 215.7)"/><ellipse class="t" cx="511.6" cy="213.3" rx="0.9" ry="1.3" transform="rotate(27 511.6 213.3)"/><ellipse class="t" cx="510.1" cy="203.3" rx="0.9" ry="1.3" transform="rotate(27 510.1 203.3)"/><ellipse class="t" cx="515.4" cy="191.4" rx="0.9" ry="1.3" transform="rotate(27 515.4 191.4)"/><ellipse class="t" cx="524.3" cy="184.7" rx="0.9" ry="1.3" transform="rotate(27 524.3 184.7)"/><ellipse class="t" cx="531.6" cy="187.1" rx="0.9" ry="1.3" transform="rotate(27 531.6 187.1)"/><ellipse class="t" cx="533.1" cy="197.1" rx="0.9" ry="1.3" transform="rotate(27 533.1 197.1)"/>
</g>
<!-- 24 seal -->
<g id="p24">
<ellipse class="p" cx="544.4" cy="217.6" rx="10.6" ry="15.4" transform="rotate(24 544.4 217.6)"/>
<path class="p" style="stroke:none" d="M550,203.4 L553.6,204.6 L541.4,232.6 L538,231.4 Z"/>
<ellipse class="p" cx="547.8" cy="218.6" rx="10.4" ry="15.2" transform="rotate(24 547.8 218.6)"/>
<path class="l" d="M550.6,203.4 L554,204.6 M537.8,231.6 L541.4,232.8"/>
<ellipse class="l" cx="548" cy="218.8" rx="8" ry="12.4" transform="rotate(24 548 218.8)"/>
<ellipse class="w" cx="548.6" cy="219.2" rx="6" ry="10" transform="rotate(24 548.6 219.2)"/>
<ellipse class="t" cx="549.2" cy="219.4" rx="4.8" ry="8.6" transform="rotate(24 549.2 219.4)"/>
</g>
<!-- 26 housing -->
<g id="p26">
<path class="l" style="stroke-width:1.8" d="M571.9,212.4 L568.4,210.6 M565.0,221.6 L561.6,219.9 M557.7,236.3 L554.3,234.6 M554.0,250.4 L550.6,248.7 M554.8,265.6 L551.3,263.9 M559.7,280.7 L556.2,279.0 M584.1,205.0 L580.7,203.3 M602.6,195.3 L599.2,193.5 M618.3,200.6 L619.2,196.7 M626.1,206.0 L627.1,202.1"/>
<path class="p" d="M602.4,194.8 L610.9,196.7 L618.3,200.1 L625.6,204.5 L629.2,208.2 L630.5,211.9 L631.9,221.6 L631.7,231.4 L631.4,246.1 L630.5,258.3 L629.2,264.4 L626.8,269.2 L618.3,274.9 L610.9,279.0 L609.0,282.2 L607.3,283.2 L598.7,287.6 L589.0,291.5 L579.2,293.4 L571.9,293.9 L565.8,292.4 L562.1,290.0 L558.4,283.9 L555.3,276.6 L553.8,265.6 L553.5,253.4 L554.8,244.8 L557.2,236.3 L560.1,229.0 L564.5,221.6 L568.2,216.3 L571.9,211.9 L578.0,207.5 L584.1,204.5 L593.8,199.2 Z"/>
<path class="l" style="stroke-width:1.45" d="M606.1,200.1 L597.5,203.3 L589.0,207.5 L581.6,211.4 L575.5,216.3 L570.6,221.6 L566.5,228.5 L563.1,236.3 L560.6,244.8 L559.2,254.6 L559.2,264.4 L560.6,272.9 L563.6,280.7 L567.5,287.1"/>
<path class="l" style="stroke-width:1.45" d="M609.0,205.0 L599.9,208.9 L592.6,212.8 L585.3,217.7 L579.7,223.6 L575.3,230.4 L571.9,238.7 L569.9,247.3 L569.4,256.3 L570.4,265.1 L572.8,272.9 L576.7,279.0"/>
<path class="l" style="stroke-width:1.25" d="M613.4,211.9 L604.8,215.3 L597.5,219.2 L591.4,224.6 L586.5,231.4 L582.9,239.2 L581.1,248.0 L581.1,256.3 L582.6,264.1 L585.5,270.5"/>
<path class="l" style="stroke-width:1.25" d="M597.5,203.3 L599.9,208.9 M581.6,211.4 L585.3,217.7 M570.6,221.6 L575.3,230.4 M563.1,236.3 L571.9,238.7 M559.2,254.6 L569.4,256.3 M560.6,272.9 L572.8,272.9 M589.0,207.5 L592.6,212.8 M566.5,228.5 L575.3,230.4 M560.6,244.8 L569.9,247.3 M559.2,264.4 L570.4,265.1 M593.8,199.2 L597.5,203.3 M578.0,207.5 L581.6,211.4 M568.2,216.3 L570.6,221.6 M560.1,229.0 L563.1,236.3 M554.8,244.8 L560.6,244.8 M553.5,258.3 L559.2,258.3 M555.3,276.6 L560.6,272.9 M562.1,290.0 L567.5,287.1"/>
<path class="l" style="stroke-width:1.45" d="M606.1,200.1 L613.4,202.1 L620.7,206.5 L625.1,211.4 L627.1,221.6 L627.1,233.8 L631.0,232.9"/>
<path class="l" style="stroke-width:1.25" d="M609.0,205.0 L615.8,207.5 L621.2,212.4 L622.7,221.6 L622.7,232.9 L627.1,233.8 M613.4,202.1 L615.8,207.5 M625.1,211.4 L621.2,212.4 M627.1,221.6 L622.7,221.6"/>
<path class="l" style="stroke-width:1.45" d="M599.2,220.7 L612.4,235.3 M601.2,219.2 L614.4,233.8 M599.2,220.7 L601.2,219.2"/>
<ellipse class="p" cx="613.9" cy="235.8" rx="2.4" ry="2"/>
<path class="p" d="M602.6,243.1 L609.0,239.7 L618.3,242.6 L628.0,246.1 L631.0,249.0 L630.5,258.3 L629.2,265.6 L626.8,270.0 L618.3,274.9 L610.9,279.0 L607.3,277.8 L603.6,272.9 L601.7,265.6 L600.7,255.8 L600.7,248.5 Z"/>
<path class="l" style="stroke-width:1.45" d="M602.6,243.1 L609.0,246.5 L609.0,255.8 L600.7,252.4 M609.0,246.5 L618.3,242.6 M609.0,255.8 L609.0,268.0 L603.6,272.9 M609.0,268.0 L612.2,271.0 L610.9,279.0 M600.7,248.5 L593.8,246.1 L591.4,249.0 L593.8,258.3 L600.7,260.7"/>
<ellipse class="p" style="fill:#fff" cx="619.7" cy="261.2" rx="9" ry="11" transform="rotate(10 619.7 261.2)"/>
<ellipse class="l" cx="620.7" cy="261.7" rx="7.2" ry="9.2" transform="rotate(10 620.7 261.7)"/>
<path class="p" d="M592.9,268.0 L600.7,264.6 L603.6,272.9 L609.0,277.8 L609.0,282.2 L603.6,285.1 L596.3,283.7 L592.9,277.8 Z"/>
<path class="l" style="stroke-width:1.25" d="M596.3,269.5 L597.3,282.2 M600.2,267.5 L602.1,283.2 M592.9,272.9 L603.6,277.3"/>
<path class="l" style="stroke-width:1.45" d="M567.5,287.1 L574.3,282.7 L584.1,280.7 L592.9,277.8 M576.7,279.0 L581.6,275.8 L589.0,274.4 L592.9,272.9 M571.9,293.9 L573.3,288.5 L581.6,285.1 L591.4,285.6 L598.7,287.6"/>
<path class="l" style="stroke-width:1.25" d="M585.5,270.5 L591.4,268.0 L592.9,268.0 M582.6,264.1 L591.4,260.7 L593.8,258.3 M581.1,252.2 L591.4,249.0 M586.5,231.4 L593.8,246.1 M597.5,219.2 L602.6,243.1"/>
<path class="l" style="stroke-width:1.25" d="M604.8,215.3 L609.0,239.7 M613.4,211.9 L618.3,242.6 M591.4,224.6 L599.2,220.7"/>
<path style="fill:#d6dae0;stroke:none" d="M602.6,243.6 L608.5,246.8 L608.5,255.3 L601.2,252.2 Z M574.3,283.2 L584.1,281.2 L591.4,278.8 L591.4,285.1 L581.6,284.6 L573.8,288.1 Z"/>
<circle class="t" cx="574.3" cy="290.5" r="1.2"/><circle class="t" cx="584.1" cy="289.5" r="1.2"/><circle class="t" cx="595.1" cy="287.1" r="1.2"/><circle class="t" cx="563.3" cy="285.6" r="1.2"/><circle class="t" cx="557.2" cy="270.5" r="1.2"/><circle class="t" cx="556.2" cy="255.8" r="1.2"/><circle class="t" cx="558.7" cy="239.9" r="1.2"/><circle class="t" cx="567.0" cy="221.6" r="1.2"/><circle class="t" cx="576.7" cy="211.4" r="1.2"/><circle class="t" cx="587.7" cy="206.0" r="1.2"/><circle class="t" cx="604.3" cy="198.2" r="1.2"/><circle class="t" cx="618.3" cy="203.6" r="1.2"/><circle class="t" cx="627.5" cy="214.3" r="1.2"/><circle class="t" cx="629.2" cy="226.5" r="1.2"/><circle class="t" cx="628.0" cy="268.0" r="1.2"/><circle class="t" cx="610.4" cy="275.4" r="1.2"/>
</g>
<!-- main case -->
<g id="pcase">
<path class="p" d="M395.6,205.2 L405,206 L414.2,211.2 L438.4,229.7 L461.6,244.6 L466,246.6 L471.6,255 L483,262 L490,270.8 L493,292 L491.7,323.8 L486,341 L473,352.5 L453,361.6 L445.3,362.4 L435.8,358 L426.2,357.5 L415.2,349.3 L393.4,341 L374.2,324.7 L355,311 L341.4,300 L336,290 L334.3,281.8 L336.2,259.5 L338,248 L339.9,240.9 L341.4,234.6 L351,229.6 L373.3,217 Z"/>
<!-- left face pockets and ribs -->
<path style="fill:#d9dde2;stroke:none" d="M349.7,259.4 L357.9,263.7 L357.9,276.7 L349.7,272.4 Z M361.2,281.5 L371.0,286.7 L371.0,299.7 L361.2,294.5 Z M374.3,272.4 L384.1,277.7 L384.1,290.7 L374.3,285.4 Z M387.4,311.4 L397.3,316.6 L397.3,327.6 L387.4,322.4 Z M400.5,302.4 L412.0,308.5 L412.0,321.5 L400.5,315.4 Z M361.2,253.5 L371.0,258.7 L371.0,267.7 L361.2,262.5 Z M387.4,279.4 L397.3,284.6 L397.3,297.6 L387.4,292.4 Z M374.3,304.4 L384.1,309.7 L384.1,320.7 L374.3,315.4 Z M349.7,291.4 L357.9,295.7 L357.9,304.7 L349.7,300.4 Z"/>
<path class="l" style="stroke-width:1.3" d="M346.4,244.6 L346.4,300.6 M349.7,246.4 L349.7,304.4 M357.9,250.7 L357.9,314.7 M361.2,252.5 L361.2,316.5 M371.0,257.7 L371.0,325.7 M374.3,259.4 L374.3,327.4 M384.1,264.7 L384.1,332.7 M387.4,266.4 L387.4,334.4 M397.3,271.6 L397.3,337.6 M400.5,273.4 L400.5,339.4 M412.0,279.5 L412.0,345.5 M415.3,281.2 L415.3,347.2 M341.5,252.0 L423.5,295.6 M341.5,255.0 L423.5,298.6 M341.5,268.0 L423.5,311.6 M344.8,272.7 L423.5,314.6 M343.1,284.9 L423.5,327.6 M346.4,289.6 L423.5,330.6 M349.7,302.4 L423.5,341.6 M353.0,307.1 L423.5,344.6"/>
<path class="l" d="M336.2,259.5 L341.5,262 M334.3,281.8 L341.5,285 M336,290 L341.5,293 M341.5,240 L341.5,298"/>
<path class="p" d="M352,250 L364,256 L366,262 L362,266 L352,261 Z"/>
<ellipse class="l" cx="358.6" cy="258" rx="2.6" ry="2"/>
<path class="l" d="M358,266 Q362,272 360,282 Q358,292 362,300 M362,268 Q366,274 364,284 Q362,292 366,300 M344,286 Q350,290 352,300 L356,308 M347,284 Q354,290 355,298 L360,308"/>
<ellipse class="p" cx="375" cy="311.6" rx="3.6" ry="4.2"/><ellipse class="t" cx="375" cy="311.6" rx="1.8" ry="2.2"/>
<path class="p" d="M378,326 L384,322 L386,328 L382,334 L380,340 L376,338 Z"/>
<path class="p" d="M396,340 Q394,346 398,352 L404,354 L408,348 L404,342 Z"/>
<ellipse class="t" cx="401" cy="347" rx="2" ry="2.6"/>
<path class="p" d="M386,270 L398,276 L410,278 L414,284 L410,288 L398,286 L386,280 Z"/>
<path class="l" d="M390,274 L390,281 M398,276 L398,286 M404,277.6 L404,287"/>

<!-- top rim -->
<path class="l" d="M341.4,234.6 L343,239.4 L423.5,282 L462,250 L466,246.6 M343,239.4 L396,209 L405,209.8 L458.6,246.4 M423.5,282 L423.5,276 M347.6,238.6 L396.6,212 L404,212.8 L453.6,246.6 L423.5,271.6 Z" style="stroke-width:1.2"/>
<path class="l" d="M341.4,234.6 L423.5,276 L461.6,244.6"/>
<!-- top interior -->
<path class="p" style="fill:#e3e7eb" d="M352,238 L370,228 L386,236 L368,246 Z"/>
<path class="l" d="M356,238 L370,230.6 L382,236 L368,243.6 Z M360,237.6 Q366,233 372,233.6 Q376,236 372,239 Q366,241.6 360,237.6 Z"/>
<path class="l" style="stroke-width:1.3" d="M368,246 L368,256 M386,236 L386,262 M378,226 L378,232 M384,220 L400,228 L400,246 M392,216 L392,224 M400,228 L416,220 M400,234 L440,256 M386,244 L426,266 M408,222 L408,262 M416,220 L416,266 M424,226 L424,270 M432,232 L432,266 M440,238 L440,260 M386,250 L420,268 M392,240 L392,258 M400,246 L424,258 L446,246 M408,240 L432,252 M392,232 L424,248 L440,240 M416,236 L432,244 M378,232 L392,240 M448,244 L448,252 M408,228 L424,236 M400,216 L400,222 L408,226"/>
<path class="t" d="M388,238 L428,260 M388,247 L422,265 M394,236 L426,252 M402,231 L438,250 M410,226 L410,262 M418,222 L418,266 M426,228 L426,268 M434,234 L434,264 M402,224 L402,244 M394,218 L394,226"/>
<path style="fill:#d9dde2;stroke:none" d="M400,234 L408,238 L408,246 L400,242 Z M416,244 L424,248 L424,256 L416,252 Z M432,244 L440,240 L440,248 L432,252 Z M392,244 L400,248 L400,256 L392,252 Z"/>
<!-- bell left rim -->
<path class="l" style="stroke-width:1.2" d="M423.5,282 L423.5,349 L426.2,357.5 M423.5,282 L428,279 L450,262 L461.6,250 M428,279 L428,292 M419,284 L419,350 M419,300 L423.5,302 M419,318 L423.5,320 M419,334 L423.5,336"/>
<!-- bell flange -->
<path class="p" d="M461.6,246.5 L471.6,255 L483,262 L490,270.8 L493,292 L491.7,323.8 L486,341 L473,352.5 L453,361.6 L445.3,362.4 L435.8,358 L430,349.6 L423.5,349 L423.5,282 L450,262 Z"/>
<path class="p" style="fill:#fff" d="M468.7,266.5 L483,272 L487.4,283.7 L488,321 L481.6,336.7 L468.7,346.7 L451.5,354 L438.7,349.6 L431.5,341 L428.6,321 L427.2,302.3 L431.5,290.9 L438.7,282.3 L450,272.2 Z"/>
<path class="l" d="M464.6,251.6 L468.7,266.5 M478,259 L483,272 M489,276 L487.4,283.7 M492,322 L488,321 M485,339 L481.6,336.7 M471,351 L468.7,346.7 M452,359.6 L451.5,354 M437,356 L438.7,349.6 M426,344 L431.5,341 M424,320 L428.6,321 M424,300 L427.2,302.3 M426,288 L431.5,290.9 M434,276 L438.7,282.3 M446,266 L450,272.2"/>
<path class="l" d="M454,258 L461,268 M458,254 L466,263"/>
<!-- bell interior -->
<path class="p" style="fill:#e3e7eb" d="M450,272.2 L438.7,282.3 L431.5,290.9 L427.2,302.3 L428.6,321 L431.5,341 L438.7,349.6 L446,350 L452,340 L456,326 L458,306 L458,286 L456,276 Z"/>
<path class="l" d="M454,278 Q440,286 436,304 Q434,322 440,336 L446,346 M456,284 Q444,292 441,306 Q440,320 444,332 L450,340"/>
<path class="t" d="M455,281 Q442,289 438.6,305 Q437,321 442,334 L448,343 M457,288 Q447,295 444,307 Q443,319 447,329 M457.6,293 Q450,298 447.6,308 Q447,317 450,325 M458,298 Q453,302 451,309 Q450.6,315 453,321 M452,275 Q438,283 433.6,301 Q431.6,322 437,338"/>
<path class="l" style="stroke-width:1.2" d="M456,276 L458,286 L458,306 L456,326 L452,340 M456,276 L462,272 L468,270 M458,286 L466,282 L466,274 M458,296 L466,292 L466,282 M458,306 L470,300 L470,290 L466,292 M462,272 L462,284"/>
<path class="p" d="M452,312 L460,306 L468,308 L472,314 L472,324 L466,330 L458,330 L452,324 Z"/>
<ellipse class="l" cx="462.6" cy="318" rx="5" ry="6"/><ellipse class="t" cx="462.6" cy="318" rx="3" ry="3.8"/>
<path class="l" d="M444,332 L450,328 L452,324 M446,346 L452,344 L458,346 L468.7,346.7 M450,340 L456,338 L458,330 M446,320 L452,318 M472,318 L478,316 L482,320 M466,330 L470,338"/>
<path class="p" d="M446,324 L450,322 L452,326 L452,332 L448,334 L446,330 Z"/>
<circle class="t" cx="468" cy="256" r="1.1"/><circle class="t" cx="481" cy="264" r="1.1"/><circle class="t" cx="490.4" cy="282" r="1.1"/><circle class="t" cx="491" cy="304" r="1.1"/><circle class="t" cx="489" cy="328" r="1.1"/><circle class="t" cx="480" cy="345" r="1.1"/><circle class="t" cx="463" cy="355" r="1.1"/><circle class="t" cx="445" cy="359" r="1.1"/><circle class="t" cx="432" cy="351" r="1.1"/><circle class="t" cx="426" cy="330" r="1.1"/><circle class="t" cx="425.4" cy="310" r="1.1"/><circle class="t" cx="428" cy="286" r="1.1"/><circle class="t" cx="440" cy="274" r="1.1"/><circle class="t" cx="456" cy="262" r="1.1"/>
<!-- bottom edge -->
<path class="l" d="M341.4,296 L355,307 L374.2,320.6 L393.4,337 L415.2,345.4 L423.5,349"/>
<path d="M355,261.6 L430,300.4" style="fill:none;stroke:#0a0a0a;stroke-width:3.2"/><path d="M355.6,262 L429.4,300" style="fill:none;stroke:#f2f4f6;stroke-width:1.3"/><circle class="p" cx="354.6" cy="261.4" r="2"/><circle class="p" cx="430.4" cy="300.6" r="2"/>
</g>
<!-- 5 cap -->
<g id="p5">
<path class="p" d="M372.8,363.1 L379.4,357.9 L384.6,358.6 L394.7,365.3 L394.4,367.4 L387,372.4 L384,371.6 L381,373 L378.3,372.4 L372.8,366.6 Z"/>
<path class="l" d="M372.8,363.1 L379,368.6 L387,369.4 L394.7,365.3 M379,368.6 L378.6,372"/>
<path class="p" d="M378.4,357.4 Q378.4,355 381.8,355 Q385.2,355.2 385.2,357.6 L385.2,360.8 Q385,362.8 381.8,362.8 Q378.6,362.6 378.4,360.6 Z"/>
<path class="l" d="M378.4,357.4 Q378.8,359.6 381.8,359.6 Q385,359.4 385.2,357.6"/>
</g>
<!-- 4 pan -->
<g id="p4">
<path class="p" d="M366.3,399.2 L368,396.6 L380.5,387.2 L396.9,377.3 L421,370.6 L424.2,369.8 L428,371.6 L442.8,379.5 L463.6,391.6 L465.6,393.6 L464.7,396.6 L458.1,401.6 L438,413.4 L438,417 L435,418 L434,415.6 L422,421.6 L400.2,432.6 L396,432 L393.6,429.9 L391.4,424.4 L385,421 L380,419.6 L375,414.4 L368,410.6 L366.3,408 Z"/>
<path class="l" d="M366.3,402.6 L375,409 L391.4,419.6 L394.6,426 L400.2,428 L422,417 L458.1,397.4 L464.7,393.6"/>
<path class="l" d="M371.6,399.4 L383,390 L398,381 L423.6,374 L441,383 L459.6,394 L436,407.6 L400.6,425 L394,420.6 L374,405 Z"/>
<path class="t" d="M374.6,399.6 L384.6,391.6 L398.6,383.4 L423.4,376.6 L439.6,385 L455.6,394.2 L435,406 L400.8,422.6 L395.6,419 L377,404.6 Z"/>
<ellipse class="p" style="fill:#dfe3e8" cx="403.4" cy="399.6" rx="8.8" ry="5" transform="rotate(-4 403.4 399.6)"/>
<path class="t" d="M395,400.6 Q396,404.6 403.6,404.8 Q410.6,404.2 412,400"/>
<path class="l" d="M426.4,396 L436.4,392.4 L439.6,394.6 L429.6,398.6 Z"/>
<path class="l" d="M395,384.6 Q395,381.4 399,381 Q403,381.4 403,384.4 Q402,387 399,387 Q396,387 395,384.6 Z M421,377.6 Q421,375 425,374.6 Q429,375 429,377.6 Q428,380 425,380 Q422,380 421,377.6 Z M441,387.6 Q441,385 445,384.6 Q449,385 449,387.6 Q448,390 445,390 Q442,390 441,387.6 Z"/>
<circle class="t" cx="370" cy="400" r="1.2"/><circle class="t" cx="382" cy="388.6" r="1.2"/><circle class="t" cx="398" cy="378.6" r="1.2"/><circle class="t" cx="424" cy="371.6" r="1.2"/><circle class="t" cx="443" cy="381" r="1.2"/><circle class="t" cx="462.6" cy="393" r="1.4"/><circle class="t" cx="440" cy="409" r="1.2"/><circle class="t" cx="421" cy="418.6" r="1.2"/><circle class="t" cx="399.6" cy="429.6" r="1.2"/><circle class="t" cx="383" cy="416" r="1.2"/><circle class="t" cx="371" cy="408" r="1.2"/>
</g>
</g>
<!-- ARROWS -->
<g id="arrows">
<path class="ar" marker-end="url(#ah)" d="M40,29.5 L24.2,39.2"/>
<path class="ar" marker-end="url(#ah)" d="M97.5,67 L85,82"/>
<path class="ar" marker-end="url(#ah)" d="M31,107.5 L50,107.5"/>
<path class="ar" marker-end="url(#ah)" d="M57,151.7 L57,170.5"/>
<path class="ar" marker-end="url(#ah)" d="M145,191 L164,191"/>
<path class="ar" marker-end="url(#ah)" d="M74,254.7 L93.7,254.7"/>
<path class="ar" marker-end="url(#ah)" d="M149,259.7 L149,278.5"/>
<path class="ar" marker-end="url(#ah)" d="M218.7,224 L230.7,209"/>
<path class="ar" marker-end="url(#ah)" d="M245,235.5 L257,222.5"/>
<path class="ar" marker-end="url(#ah)" d="M300,253.5 L312,239.7"/>
<path class="ar" marker-end="url(#ah)" d="M177.5,32.5 L196,32.5"/>
<path class="ar" marker-end="url(#ah)" d="M275.5,96.7 L295,96.7"/>
<path class="ar" marker-end="url(#ah)" d="M236,338 L216,338"/>
<path class="ar" marker-end="url(#ah)" d="M66,356 L86,356"/>
<path class="ar" marker-end="url(#ah)" d="M35.7,429 L55.5,429"/>
<path class="ar" marker-end="url(#ah)" d="M353.7,364 L373,364"/>
<path class="ar" marker-end="url(#ah)" d="M485,395 L465,395"/>
<path class="ar" marker-end="url(#ah)" d="M576,93.7 L556,93.7"/>
<path class="ar" marker-end="url(#ah)" d="M435.5,64.2 L455,64.2"/>
<path class="ar" marker-end="url(#ah)" d="M600,26.7 L580,26.7"/>
<path class="ar" marker-end="url(#ah)" d="M475.3,159.5 L475.3,177.5"/>
<path class="ar" marker-end="url(#ah)" d="M532.5,248.5 L541,235"/>
<path class="ar" marker-end="url(#ah)" d="M500,236 L510,218"/>
<path class="ar" marker-end="url(#ah)" d="M585,311 L585,293"/>
</g>
<!-- LABELS -->
<g id="labels" class="lbl" text-anchor="middle" opacity="0.995">
<text transform="translate(48,27) scale(0.8,1)">2</text>
<text transform="translate(102.7,64.5) scale(0.8,1)">3</text>
<text transform="translate(23.3,116) scale(0.8,1)">6</text>
<text transform="translate(57.2,148.5) scale(0.8,1)">7</text>
<text transform="translate(137.5,200) scale(0.8,1)">9</text>
<text transform="translate(60.5,263.5) scale(0.8,1)">10</text>
<text transform="translate(148.7,254) scale(0.8,1)">11</text>
<text transform="translate(211.7,244.7) scale(0.8,1)">12</text>
<text transform="translate(238,257) scale(0.8,1)">13</text>
<text transform="translate(291.7,273) scale(0.8,1)">14</text>
<text transform="translate(162.7,41) scale(0.8,1)">15</text>
<text transform="translate(262.5,105) scale(0.8,1)">16</text>
<text transform="translate(252.5,46) scale(0.8,1)">1</text>
<text transform="translate(245.2,347) scale(0.8,1)">8</text>
<text transform="translate(52.3,365.5) scale(0.8,1)">17</text>
<text transform="translate(22.7,438) scale(0.8,1)">18</text>
<text transform="translate(346,373) scale(0.8,1)">5</text>
<text transform="translate(493,404) scale(0.8,1)">4</text>
<text transform="translate(587.3,102) scale(0.8,1)">19</text>
<text transform="translate(420.5,72.5) scale(0.8,1)">20</text>
<text transform="translate(610.8,35) scale(0.8,1)">21</text>
<text transform="translate(511.7,175) scale(0.8,1)">22</text>
<text transform="translate(475,155) scale(0.8,1)">23</text>
<text transform="translate(521.7,269.7) scale(0.8,1)">24</text>
<text transform="translate(492,255.5) scale(0.8,1)">25</text>
<text transform="translate(585,333) scale(0.8,1)">26</text>
</g>
</svg>
</body></html>
